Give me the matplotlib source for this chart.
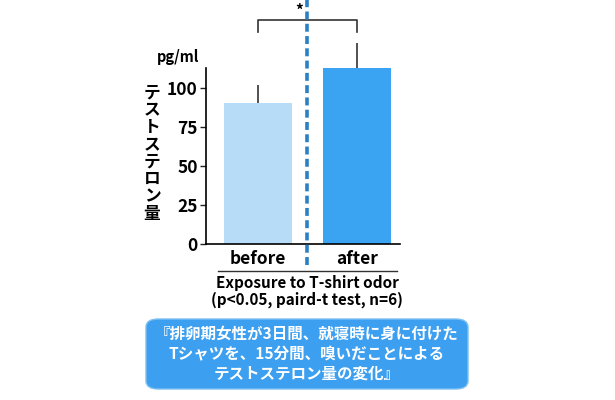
import matplotlib.pyplot as plt
from matplotlib.patches import FancyBboxPatch

plt.rcParams['font.family'] = ['Noto Sans CJK JP', 'DejaVu Sans']

groups = ['before', 'after']
values = [90.4, 112.8]
errors = [11.6, 16.0]
bar_colors = ['#b6dcf8', '#3aa4f2']
yticks = [0, 25, 50, 75, 100]
ylabel = 'テストステロン量'
unit = 'pg/ml'
xlabel = 'Exposure to T-shirt odor'
note = '(p<0.05, paird-t test, n=6)'
caption = '『排卵期女性が3日間、就寝時に身に付けた\nTシャツを、15分間、嗅いだことによる\nテストステロン量の変化』'

fig = plt.figure(figsize=(6.15, 4.0), dpi=100)
ax = fig.add_axes([206 / 615, 1 - 244 / 400, 194 / 615, 176 / 400])

x = [0, 1]
ax.bar(x, values, width=0.69, color=bar_colors, zorder=2)
eb = ax.errorbar(x, values, yerr=[[0, 0], errors], fmt='none', ecolor='#333333',
                 elinewidth=1.2, capsize=0, zorder=1)
for coll in eb[2]:
    coll.set_clip_on(False)

ax.set_xlim(-0.525, 1.434)
ax.set_ylim(0, 112.8)
ax.set_yticks(yticks)
ax.set_yticklabels([str(t) for t in yticks], fontsize=12.5, fontweight='bold')
ax.set_xticks(x)
ax.set_xticklabels(groups, fontsize=12.5, fontweight='bold')
ax.tick_params(axis='x', length=0, pad=4)
ax.tick_params(axis='y', length=4, width=1, pad=2, color='#222222')
for s in ['top', 'right']:
    ax.spines[s].set_visible(False)
ax.spines['left'].set_linewidth(1.2)
ax.spines['bottom'].set_linewidth(1.2)

# significance bracket
ax.plot([0, 0, 1, 1], [136, 143.6, 143.6, 136], color='#333333', lw=1.2, clip_on=False)
ax.text(0.414, 144.5, '*', ha='center', va='bottom', fontsize=11, fontweight='bold')

# dashed divider
ax.plot([0.495, 0.495], [-13.5, 156.4], color='#2a80c4', lw=2.6,
        linestyle=(0, (2.2, 1.2)), clip_on=False, zorder=3)

# underline below group labels
ax.plot([-0.404, 1.404], [-17.3, -17.3], color='#333333', lw=1.0, clip_on=False)

fig.text(178 / 615, 1 - 57 / 400, unit, ha='center', va='center', fontsize=10.5, fontweight='bold')
fig.text(152 / 615, 1 - 153 / 400, '\n'.join(ylabel), ha='center', va='center',
         fontsize=12, fontweight='bold', linespacing=0.95)
fig.text(307 / 615, 1 - 283 / 400, xlabel, ha='center', va='center', fontsize=11, fontweight='bold')
fig.text(307 / 615, 1 - 300 / 400, note, ha='center', va='center', fontsize=11, fontweight='bold')

box = FancyBboxPatch((146 / 615, 1 - 389 / 400), 322 / 615, 70 / 400,
                     boxstyle='round,pad=0,rounding_size=0.02', transform=fig.transFigure,
                     facecolor='#3c9ff0', edgecolor='#7cc0f2', lw=1)
fig.patches.append(box)
fig.text(307 / 615, 1 - 354 / 400, caption, ha='center', va='center', color='white',
         fontsize=11.2, fontweight='bold', linespacing=1.3)

fig.savefig('out.png', dpi=100)
